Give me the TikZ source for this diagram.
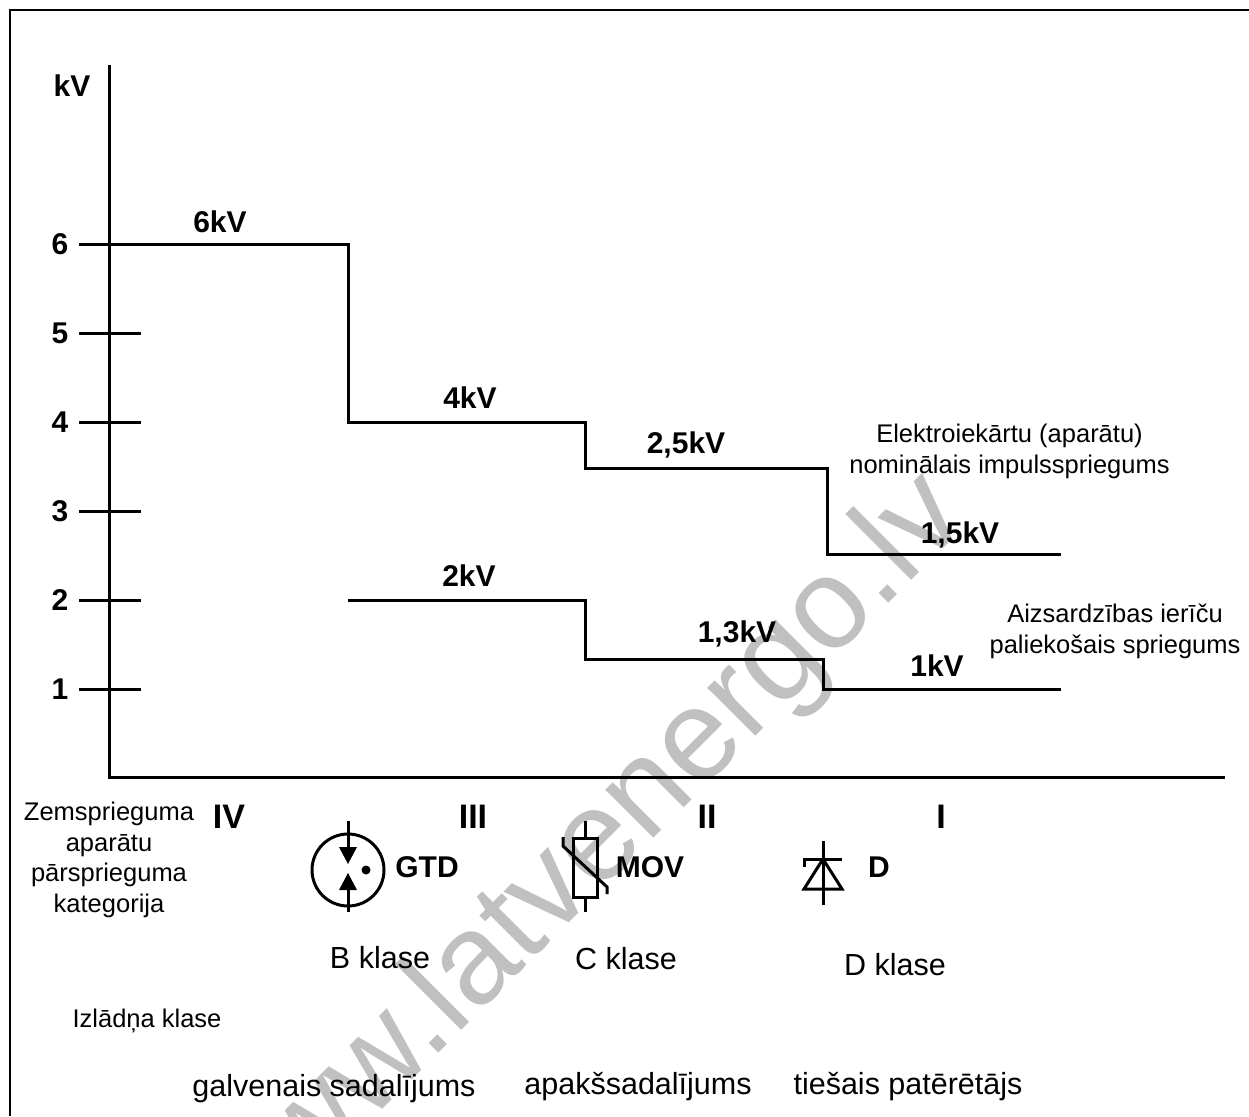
\documentclass[tikz,border=0pt]{standalone}
\usepackage{fontspec}
\setmainfont{Liberation Sans}
\tikzset{
  x=1pt,y=-1pt,
  line/.style={draw=black,line width=3pt,line cap=butt,line join=miter},
  txt/.style={inner sep=0pt,outer sep=0pt,anchor=base,text=black,font=\fontsize{25.5}{30.5}\selectfont,align=center},
  big/.style={txt,font=\fontsize{30.5}{34}\selectfont},
  lab/.style={txt,font=\fontsize{30}{34}\selectfont\bfseries},
  roman/.style={txt,font=\fontsize{34}{38}\selectfont\bfseries},
  wm/.style={inner sep=0pt,anchor=base west,text={rgb,255:red,192;green,192;blue,192},font=\fontsize{128.6}{130}\selectfont,rotate=45}
}
\begin{document}
\begin{tikzpicture}
\useasboundingbox (0,0) rectangle (1249,1116);
\begin{scope}
\clip (0,0) rectangle (1249,1116);
\node[wm] (watermark) at (238.5,1253.5) {www.latvenergo.lv};
\end{scope}
% frame
\draw[line,line width=2.5pt] (10,1116) -- (10,10) -- (1249,10);
% axes
\draw[line] (109,65) -- (109,777) -- (1225,777);
% ticks
\foreach \yy in {333,422,511,600,689} \draw[line] (79,\yy) -- (141,\yy);
% upper curve
\draw[line] (79,244) -- (348,244) -- (348,422) -- (585,422) -- (585,468) -- (827,468) -- (827,554) -- (1061,554);
% lower curve
\draw[line] (348,600) -- (585,600) -- (585,659) -- (823,659) -- (823,689) -- (1061,689);
% axis labels
\node[lab] (kv) at (72,96) {kV};
\node[lab] (t6) at (60,254) {6};
\node[lab] (t5) at (60,343) {5};
\node[lab] (t4) at (60,432) {4};
\node[lab] (t3) at (60,521) {3};
\node[lab] (t2) at (60,610) {2};
\node[lab] (t1) at (60,699) {1};
% value labels
\node[lab] (v6) at (220,232) {6kV};
\node[lab] (v4) at (470,408) {4kV};
\node[lab] (v25) at (686,453) {2,5kV};
\node[lab] (v15) at (960,543) {1,5kV};
\node[lab] (v2) at (469,586) {2kV};
\node[lab] (v13) at (737,642) {1,3kV};
\node[lab] (v1) at (937,676) {1kV};
% curve captions
\node[txt] (cap1) at (1009.5,473) {Elektroiekārtu (aparātu)\\nominālais impulsspriegums};
\node[txt] (cap2) at (1115,653) {Aizsardzības ierīču\\paliekošais spriegums};
% categories
\node[txt] (cat) at (109,912) {Zemsprieguma\\aparātu\\pārsprieguma\\kategorija};
\node[roman] (r4) at (229,828) {IV};
\node[roman] (r3) at (473,828) {III};
\node[roman] (r2) at (707,828) {II};
\node[roman] (r1) at (941,828) {I};
% GTD symbol
\draw[line] (348,870) circle (36);
\draw[line] (348,821) -- (348,850);
\draw[line] (348,912) -- (348,888);
\fill[black] (339,847) -- (357,847) -- (348,864) -- cycle;
\fill[black] (339,890) -- (357,890) -- (348,873) -- cycle;
\fill[black] (366,870) circle (4.5);
\node[lab] (gtd) at (427,877) {GTD};
% MOV symbol
\draw[line] (573,838) rectangle (597,897);
\draw[line] (585,821) -- (585,838);
\draw[line] (585,897) -- (585,912);
\draw[line] (563,837) -- (563,846) -- (607,887) -- (607,894);
\node[lab] (mov) at (650,877) {MOV};
% diode symbol
\draw[line] (823,841) -- (823,905);
\draw[line] (804,867) -- (804,859) -- (842,859);
\draw[line] (823,859) -- (804,889) -- (842,889) -- cycle;
\node[lab] (diode) at (879,877) {D};
% classes
\node[big] (cb) at (380,968) {B klase};
\node[big] (cc) at (626,969) {C klase};
\node[big] (cd) at (895,975) {D klase};
\node[txt] (izl) at (147,1027) {Izlādņa klase};
\node[big] (gal) at (334,1096) {galvenais sadalījums};
\node[big] (apa) at (638,1094) {apakšsadalījums};
\node[big] (tie) at (908,1094) {tiešais patērētājs};
\end{tikzpicture}
\end{document}
